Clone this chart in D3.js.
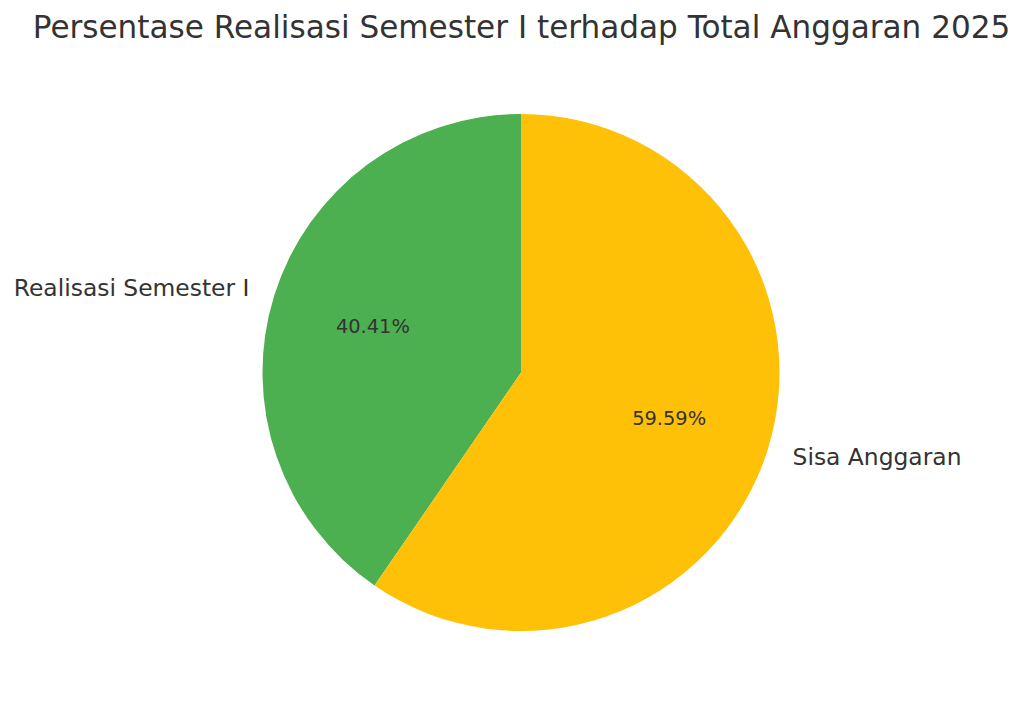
<!DOCTYPE html>
<html><head><meta charset="utf-8">
<script src="https://cdn.jsdelivr.net/npm/d3@7"></script>
<style>body{margin:0;background:#fff;} svg{display:block;font-family:"DejaVu Sans",sans-serif;}</style>
</head><body>
<svg id="chart" width="1024" height="710"></svg>
<script>
const categories = ["Realisasi Semester I", "Sisa Anggaran"];
const values = [40.41, 59.59];
const colors = ["#4CAF50", "#FFC107"];
const title = "Persentase Realisasi Semester I terhadap Total Anggaran 2025";

const svg = d3.select("#chart");
const W = 1024, H = 710;
const cx = 521, cy = 372.5, r = 258.5;

svg.append("rect").attr("width", W).attr("height", H).attr("fill", "#fff");

svg.append("text").attr("x", 521.5).attr("y", 38)
  .attr("text-anchor", "middle").attr("font-size", 31.1).attr("fill", "#333")
  .text(title);

const pie = d3.pie().sort(null).value(d => d).startAngle(0).endAngle(-2 * Math.PI);
const arcs = pie(values);
const arc = d3.arc().innerRadius(0).outerRadius(r);

const g = svg.append("g").attr("transform", `translate(${cx},${cy})`);
g.selectAll("path.slice").data(arcs).join("path")
  .attr("class", "slice")
  .attr("d", arc)
  .attr("fill", (d, i) => colors[i]);

function pos(d, k) {
  const a = (d.startAngle + d.endAngle) / 2;
  return [Math.sin(a) * r * k, -Math.cos(a) * r * k];
}

g.selectAll("text.pct").data(arcs).join("text")
  .attr("class", "pct")
  .attr("x", d => pos(d, 0.6)[0])
  .attr("y", d => pos(d, 0.6)[1])
  .attr("text-anchor", "middle").attr("dominant-baseline", "central")
  .attr("font-size", 19.4).attr("fill", "#333")
  .text((d, i) => values[i].toFixed(2) + "%");

g.selectAll("text.lbl").data(arcs).join("text")
  .attr("class", "lbl")
  .attr("x", d => pos(d, 1.1)[0])
  .attr("y", d => pos(d, 1.1)[1])
  .attr("text-anchor", d => pos(d, 1.1)[0] < 0 ? "end" : "start")
  .attr("dominant-baseline", "central")
  .attr("font-size", 23.4).attr("fill", "#333")
  .text((d, i) => categories[i]);
</script>
</body></html>
